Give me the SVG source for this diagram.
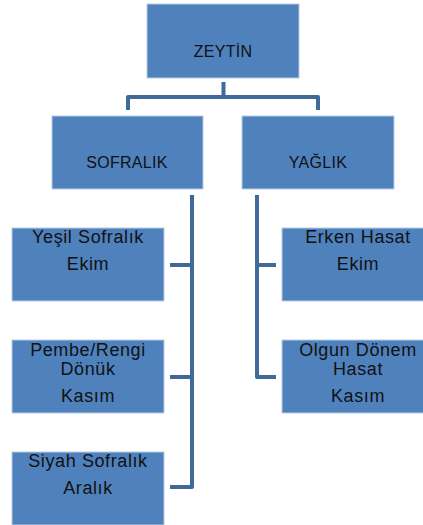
<svg xmlns="http://www.w3.org/2000/svg" width="423" height="525" viewBox="0 0 423 525">
<style>
.box{fill:#4F81BD;stroke:#B9CDE5;stroke-width:1}
.t{font-family:"Liberation Sans",Arial,sans-serif;fill:#111;text-anchor:middle}
.big{font-size:16px;letter-spacing:0.3px}
.sm{font-size:18px;letter-spacing:0.6px}
.c{fill:none;stroke:#3F6A99;stroke-width:4;stroke-linejoin:round}
</style>
<rect width="423" height="525" fill="#fff"/>
<g id="connectors">
<path class="c" d="M223.5,82 V97"/>
<path class="c" d="M128,110 V97 H318 V110"/>
<path class="c" d="M192,195 V487 H170"/>
<path class="c" d="M170,265 H192"/>
<path class="c" d="M170,377 H192"/>
<path class="c" d="M257,195 V377 H276"/>
<path class="c" d="M257,265 H276"/>
</g>
<g id="zeytin">
<rect class="box" x="147" y="4" width="152" height="74"/>
<text class="t big" x="223" y="57">ZEYTİN</text>
</g>
<g id="sofralik">
<rect class="box" x="52" y="116" width="151" height="73"/>
<text class="t big" x="127" y="168">SOFRALIK</text>
</g>
<g id="yaglik">
<rect class="box" x="242" y="116" width="152" height="73"/>
<text class="t big" x="318" y="168">YAĞLIK</text>
</g>
<g id="yesil">
<rect class="box" x="12" y="228" width="152" height="73"/>
<text class="t sm" x="88" y="243">Yeşil Sofralık</text>
<text class="t sm" x="88" y="270">Ekim</text>
</g>
<g id="pembe">
<rect class="box" x="12" y="340" width="152" height="73"/>
<text class="t sm" x="88" y="356">Pembe/Rengi</text>
<text class="t sm" x="88" y="375">Dönük</text>
<text class="t sm" x="88" y="402">Kasım</text>
</g>
<g id="siyah">
<rect class="box" x="12" y="452" width="152" height="73"/>
<text class="t sm" x="88" y="467">Siyah Sofralık</text>
<text class="t sm" x="88" y="494">Aralık</text>
</g>
<g id="erken">
<rect class="box" x="282" y="228" width="152" height="73"/>
<text class="t sm" x="358" y="243">Erken Hasat</text>
<text class="t sm" x="358" y="270">Ekim</text>
</g>
<g id="olgun">
<rect class="box" x="282" y="340" width="152" height="73"/>
<text class="t sm" x="358" y="356">Olgun Dönem</text>
<text class="t sm" x="358" y="375">Hasat</text>
<text class="t sm" x="358" y="402">Kasım</text>
</g>
</svg>
